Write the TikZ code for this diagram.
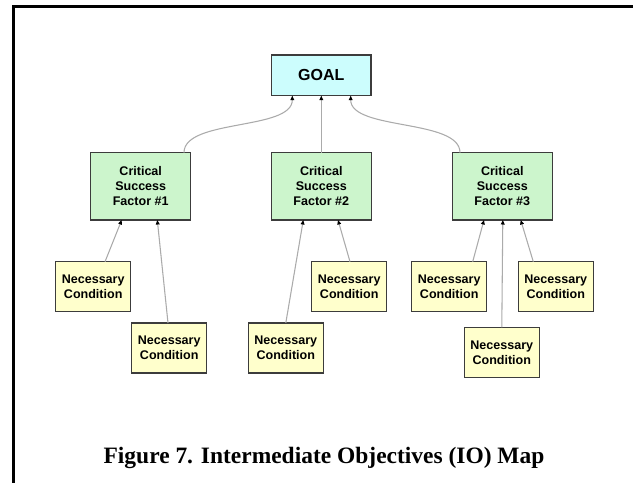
\documentclass[tikz,border=0pt]{standalone}
\usepackage{fontspec}
\setmainfont{Liberation Serif}
\setsansfont{Liberation Sans}
\usetikzlibrary{arrows.meta,calc}
\definecolor{goalfill}{HTML}{CCFDFD}
\definecolor{csffill}{HTML}{CCF5CC}
\definecolor{ncfill}{HTML}{FFFFCC}
\definecolor{boxline}{HTML}{3C3C3C}
\definecolor{conline}{HTML}{ABABAB}
\tikzset{
  box/.style={draw=boxline, line width=1.1pt, rectangle, inner sep=0pt, outer sep=0pt, align=center,
    font=\sffamily\bfseries\fontsize{9.4}{11.3}\selectfont},
  goalbox/.style={box, fill=goalfill, minimum width=74.5pt, minimum height=30.5pt,
    font=\sffamily\bfseries\fontsize{12}{14}\selectfont},
  csfbox/.style={box, fill=csffill, minimum width=75pt, minimum height=50.5pt},
  ncbox/.style={box, fill=ncfill, minimum width=56.25pt, minimum height=37.5pt},
  conn/.style={draw=conline, line width=0.8pt, -{Triangle[length=3.4pt,width=2.8pt,color=black]}},
}
\begin{document}
\begin{tikzpicture}[x=0.75pt,y=-0.75pt]
\useasboundingbox (0,0) rectangle (633,483);
% frame
\fill[black] (12,5) rectangle (633,7.5);
\fill[black] (12,5) rectangle (15,483);
% nodes
\node[goalbox] (goal) at (321.3,75.3) {GOAL};
\node[csfbox] (csf1) at (140.7,186.3) {Critical\\Success\\Factor \#1};
\node[csfbox] (csf2) at (321.3,186.3) {Critical\\Success\\Factor \#2};
\node[csfbox] (csf3) at (502.3,186.3) {Critical\\Success\\Factor \#3};
\node[ncbox] (nc1a) at (93.2,286.7) {Necessary\\Condition};
\node[ncbox] (nc1b) at (169.2,348) {Necessary\\Condition};
\node[ncbox] (nc2a) at (285.8,348) {Necessary\\Condition};
\node[ncbox] (nc2b) at (349.2,286.7) {Necessary\\Condition};
\node[ncbox] (nc3a) at (449.2,286.7) {Necessary\\Condition};
\node[ncbox] (nc3b) at (555.8,286.7) {Necessary\\Condition};
\node[ncbox] (nc3c) at (501.8,352.3) {Necessary\\Condition};
% connectors to goal
\draw[conn] ($(csf1.north)+(43.3,0)$) .. controls +(0,-34) and +(0,35) .. ($(goal.south)+(-29,0)$);
\draw[conn] (csf2.north) -- (goal.south);
\draw[conn] ($(csf3.north)+(-42.3,0)$) .. controls +(0,-34) and +(0,35) .. ($(goal.south)+(29.4,0)$);
% connectors to CSFs
\draw[conn] ($(nc1a.north)+(11.8,0)$) -- ($(csf1.south)+(-19,0)$);
\draw[conn] ($(nc1b.north)+(-1.2,0)$) -- ($(csf1.south)+(16.6,0)$);
\draw[conn] (nc2a.north) -- ($(csf2.south)+(-18,0)$);
\draw[conn] ($(nc2b.north)+(0.8,0)$) -- ($(csf2.south)+(16.7,0)$);
\draw[conn] ($(nc3a.north)+(23.5,0)$) -- ($(csf3.south)+(-18.3,0)$);
\draw[conn] ($(nc3b.north)+(-22.5,0)$) -- ($(csf3.south)+(18.4,0)$);
\draw[conn] (nc3c.north) -- ($(csf3.south)+(0.5,0)$);
% caption
\node[anchor=base, font=\bfseries\fontsize{17.6}{20}\selectfont, inner sep=0pt] (cap) at (324,463) {Figure 7. Intermediate Objectives (IO) Map};
\end{tikzpicture}
\end{document}
